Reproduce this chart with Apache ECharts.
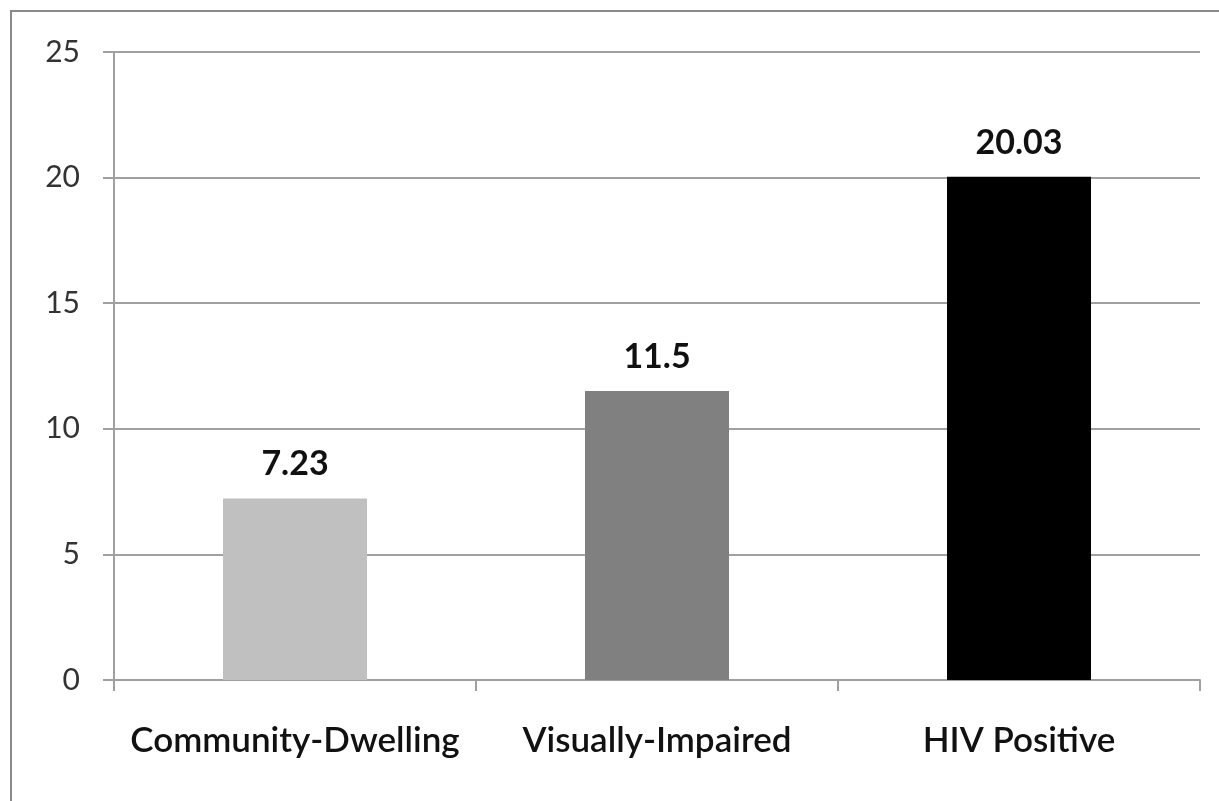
<!DOCTYPE html>
<html><head><meta charset="utf-8">
<script src="https://cdn.jsdelivr.net/npm/echarts@6/dist/echarts.min.js"></script>
<style>html,body{margin:0;padding:0;background:#fff}#c{width:1219px;height:801px;position:relative}
#frame{position:absolute;left:10px;top:10px;right:-10px;bottom:-10px;border:2px solid #8a8a8a;pointer-events:none}
body{overflow:hidden}</style>
</head><body>
<div id="c"></div><div id="frame"></div>
<script>
const categories = ['Community-Dwelling', 'Visually-Impaired', 'HIV Positive'];
const values = [7.23, 11.5, 20.03];
const valueLabels = ['7.23', '11.5', '20.03'];
const barColors = ['#c0c0c0', '#808080', '#000000'];
const yTicks = [0, 5, 10, 15, 20, 25];

const chart = echarts.init(document.getElementById('c'));
const font = 'Lato, "Open Sans", sans-serif';
chart.setOption({
  animation: false,
  grid: {left: 114, right: 19, top: 52, bottom: 121},
  xAxis: {
    type: 'category', data: categories,
    axisLine: {lineStyle: {color: '#a0a0a0', width: 2}},
    axisTick: {show: true, interval: 0, length: 11, lineStyle: {color: '#a0a0a0', width: 2}},
    axisLabel: {interval: 0, hideOverlap: false, margin: 43, fontSize: 35, fontFamily: font, fontWeight: 600, color: '#111'}
  },
  yAxis: {
    type: 'value', min: yTicks[0], max: yTicks[yTicks.length - 1], interval: 5,
    axisLine: {show: true, lineStyle: {color: '#a0a0a0', width: 2}},
    axisTick: {show: true, length: 11, lineStyle: {color: '#a0a0a0', width: 2}},
    axisLabel: {margin: 34, fontSize: 30, fontFamily: font, color: '#333'},
    splitLine: {lineStyle: {color: '#a0a0a0', width: 2}}
  },
  series: [{
    type: 'bar', barWidth: 144,
    data: values.map((v, i) => ({value: v, itemStyle: {color: barColors[i]}})),
    label: {show: true, position: 'top', distance: 17, fontSize: 34, fontWeight: 'bold', fontFamily: font, color: '#111',
      formatter: p => valueLabels[p.dataIndex]}
  }]
});
</script>
</body></html>
